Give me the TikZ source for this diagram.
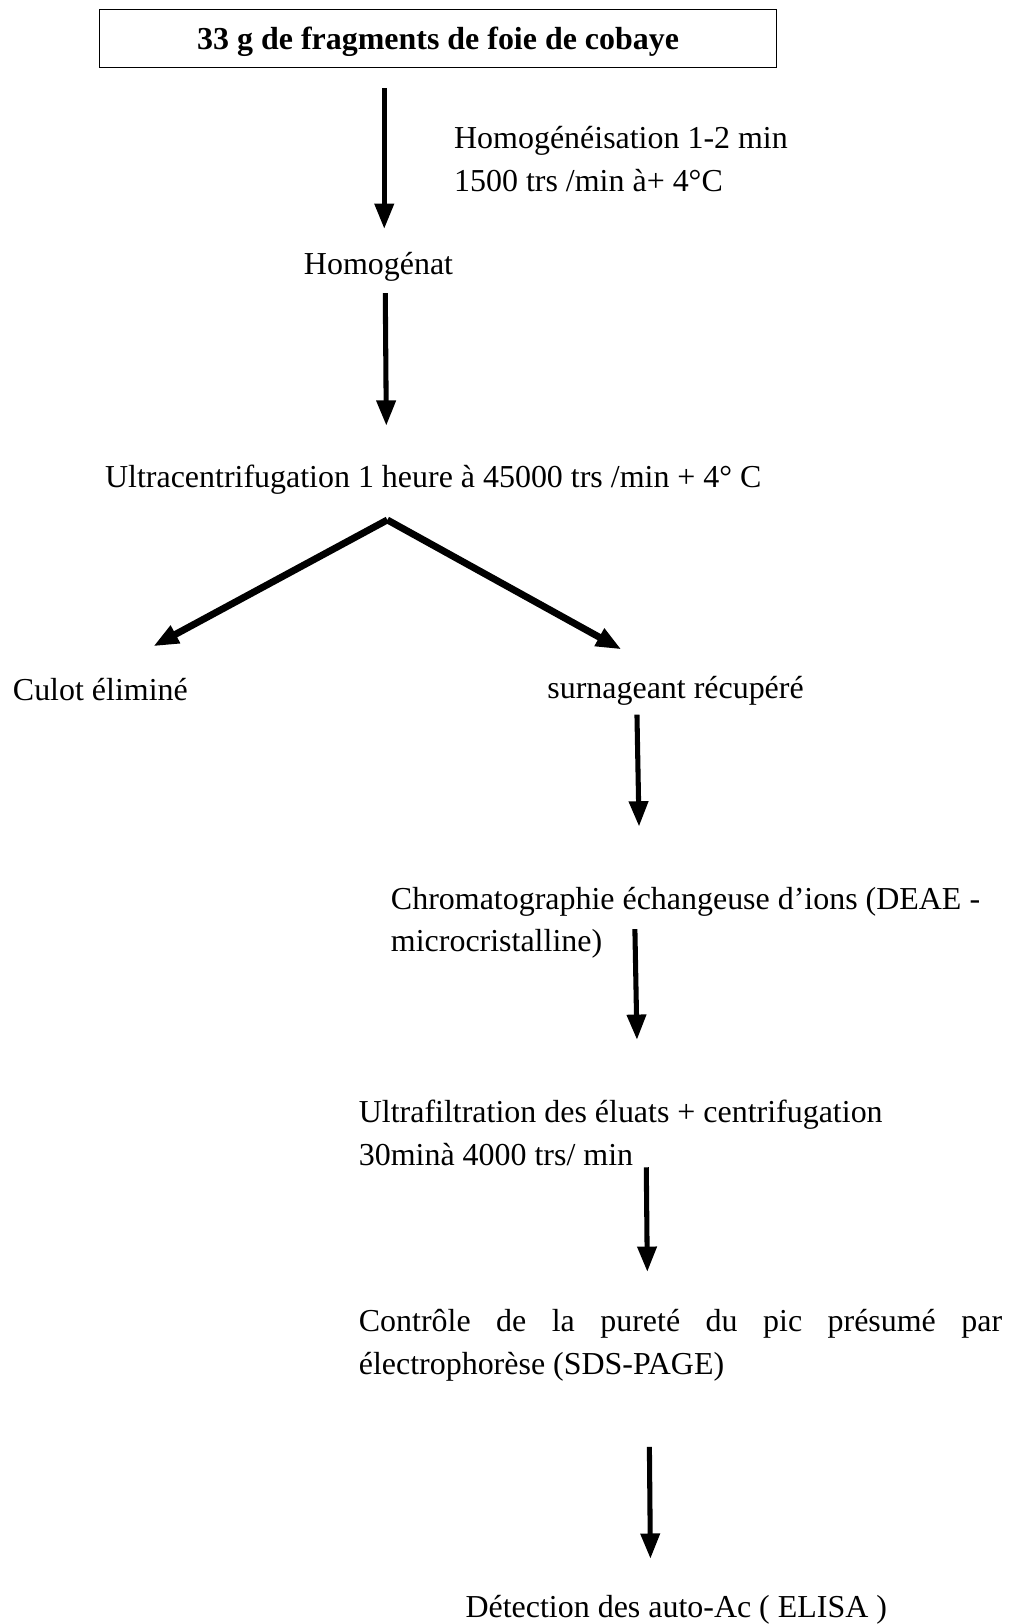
\documentclass[tikz,border=0pt]{standalone}
\usepackage{fontspec}
\setmainfont{Liberation Serif}
\usetikzlibrary{arrows.meta,positioning}

\begin{document}
\begin{tikzpicture}[x=0.389pt,y=-0.389pt,>={Triangle[width=7pt,length=9.5pt]},
    lbl/.style={inner sep=0pt,font=\fontsize{12}{16}\selectfont},
    flow/.style={->,line width=1.9pt},
    branch/.style={->,line width=2.6pt}]
  \useasboundingbox (0,0) rectangle (978,1568);
  % texts
  \node[draw,line width=0.5pt,lbl,font=\fontsize{12}{16}\selectfont\bfseries,text height=11pt,minimum width=254.4pt,minimum height=21.8pt] (foie) at (423,37) {33 g de fragments de foie de cobaye};
  \node[lbl,anchor=west,align=left] (homog) at (438,153.5) {Homogénéisation 1-2 min\\1500 trs /min à+ 4°C};
  \node[lbl,anchor=west] (homogenat) at (293,258) {Homogénat};
  \node[lbl,anchor=west] (ultra) at (101,463) {Ultracentrifugation 1 heure à 45000 trs /min + 4° C};
  \node[lbl,anchor=west] (culot) at (12,666) {Culot éliminé};
  \node[lbl,anchor=west] (surn) at (528,667) {surnageant récupéré};
  \node[lbl,anchor=west,align=left] (chrom) at (377,891) {Chromatographie échangeuse d’ions (DEAE -\\microcristalline)};
  \node[lbl,anchor=west,align=left] (filt) at (346,1094) {Ultrafiltration des éluats + centrifugation\\30minà 4000 trs/ min};
  \node[lbl,anchor=west,align=justify,text width=241.6pt] (purete) at (346,1299) {Contrôle de la pureté du pic présumé par\linebreak électrophorèse (SDS-PAGE)};
  \node[lbl,anchor=west] (elisa) at (449,1554) {Détection des auto-Ac ( ELISA )};
  % arrow ends
  \coordinate (a1) at (371,85);   \coordinate (b1) at (371,221);
  \coordinate (a2) at (372,283);  \coordinate (b2) at (373,411);
  \coordinate (top) at (374,502);
  \coordinate (bl) at (148,624);  \coordinate (br) at (600,627);
  \coordinate (a3) at (615,690);  \coordinate (b3) at (617,798);
  \coordinate (a4) at (613,897);  \coordinate (b4) at (615,1004);
  \coordinate (a5) at (624,1127); \coordinate (b5) at (625,1228);
  \coordinate (a6) at (627,1397); \coordinate (b6) at (628,1505);
  % arrows
  \draw[flow] (a1)--(b1);
  \draw[flow] (a2)--(b2);
  \draw[branch] (top)--(bl);
  \draw[branch] (top)--(br);
  \foreach \s/\e in {a3/b3,a4/b4,a5/b5,a6/b6}{\draw[flow] (\s)--(\e);}
\end{tikzpicture}
\end{document}
